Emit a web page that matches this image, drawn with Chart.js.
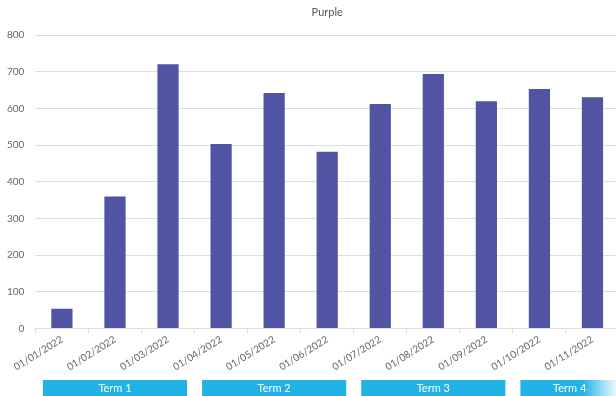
<!DOCTYPE html>
<html lang="en">
<head>
    <meta charset="UTF-8">
    <title>Purple</title>
    <script src="https://cdn.jsdelivr.net/npm/chart.js"></script>
    <style>
        html, body { margin: 0; padding: 0; background: #fff; overflow: hidden; }
        .chart-wrap { position: relative; width: 654px; height: 396px; }
    </style>
</head>
<body>
    <div class="chart-wrap">
        <canvas id="chartPurple"></canvas>
    </div>
    <script>
        // Monthly values
        const months = ['01/01/2022', '01/02/2022', '01/03/2022', '01/04/2022', '01/05/2022', '01/06/2022',
                        '01/07/2022', '01/08/2022', '01/09/2022', '01/10/2022', '01/11/2022'];
        const values = [54, 360, 721, 503, 642, 482, 612, 694, 620, 653, 631];

        // School terms, each covering three months (first / last month index)
        const termLabels = ['Term 1', 'Term 2', 'Term 3', 'Term 4'];
        const termStart = [0, 3, 6, 9];
        const termEnd = [2, 5, 8, 11];

        const yTicks = [0, 100, 200, 300, 400, 500, 600, 700, 800];

        Chart.defaults.font.family = 'Lato, sans-serif';
        Chart.defaults.font.size = 10;
        Chart.defaults.color = '#666';

        // draws the term strip under the x axis labels
        const termStrip = {
            id: 'termStrip',
            afterLayout(chart) {
                // centre the title over the plot area
                if (chart.titleBlock) {
                    chart.titleBlock.left = chart.chartArea.left;
                    chart.titleBlock.right = chart.chartArea.right;
                }
            },
            afterDraw(chart) {
                const ctx = chart.ctx;
                const x = chart.scales.x;
                const area = chart.chartArea;
                const step = x.getPixelForValue(1) - x.getPixelForValue(0);
                const top = 380, h = 16;
                ctx.save();
                termLabels.forEach((label, i) => {
                    let left = x.getPixelForValue(termStart[i]) - step / 2 + 7.5;
                    let right = x.getPixelForValue(termEnd[i]) + step / 2 - 7.5;
                    right = Math.min(right, area.right);
                    ctx.fillStyle = '#22b3e6';
                    ctx.fillRect(left, top, right - left, h);
                    ctx.fillStyle = '#fff';
                    ctx.font = '11px Lato, sans-serif';
                    ctx.textAlign = 'center';
                    ctx.textBaseline = 'middle';
                    ctx.fillText(label, (left + right) / 2, top + h / 2 + 0.5);
                    if (i === termLabels.length - 1) {
                        // fade out the cut-off last term
                        const g = ctx.createLinearGradient(right - 36, 0, right, 0);
                        g.addColorStop(0, 'rgba(255,255,255,0)');
                        g.addColorStop(1, 'rgba(255,255,255,1)');
                        ctx.fillStyle = g;
                        ctx.fillRect(right - 36, top, 36, h);
                    }
                });
                ctx.restore();
            }
        };

        const ctx = document.getElementById('chartPurple').getContext('2d');
        new Chart(ctx, {
            type: 'bar',
            data: {
                labels: months,
                datasets: [{
                    label: 'Purple',
                    data: values,
                    backgroundColor: '#5153a3',
                    categoryPercentage: 1,
                    barPercentage: 0.4
                }]
            },
            options: {
                responsive: true,
                maintainAspectRatio: false,
                animation: false,
                layout: {
                    // y tick padding is counted twice in the axis width, pull it back
                    padding: { left: -4, right: 35, top: 0, bottom: 23 }
                },
                plugins: {
                    legend: { display: false },
                    tooltip: { enabled: false },
                    title: {
                        display: true,
                        text: 'Purple',
                        color: '#555',
                        font: { size: 11, weight: 'normal' },
                        padding: { top: 6, bottom: 16 }
                    }
                },
                scales: {
                    x: {
                        grid: { drawOnChartArea: false, drawTicks: true, tickLength: 5, color: '#ddd' },
                        border: { display: true, color: '#ddd' },
                        ticks: { minRotation: 32, maxRotation: 32, padding: 0, color: '#666' },
                        // rotated labels may hang past the left edge
                        afterFit(scale) {
                            scale.paddingLeft = 0;
                            scale.paddingRight = 0;
                        }
                    },
                    y: {
                        min: 0,
                        max: 800,
                        afterBuildTicks(scale) {
                            scale.ticks = yTicks.map(v => ({ value: v }));
                        },
                        grid: { drawTicks: false, color: '#ddd' },
                        border: { display: false },
                        ticks: { padding: 11, color: '#666' }
                    }
                }
            },
            plugins: [termStrip]
        });
    </script>
</body>
</html>
